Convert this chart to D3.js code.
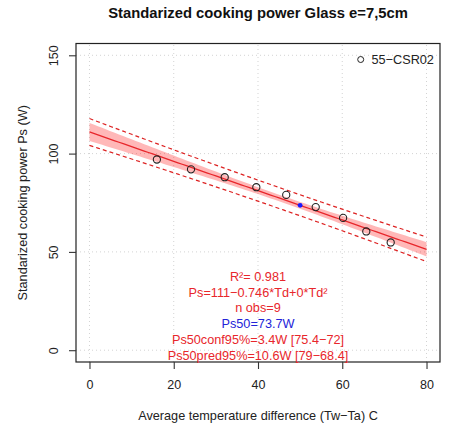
<!DOCTYPE html>
<html>
<head>
<meta charset="utf-8">
<script src="https://cdn.jsdelivr.net/npm/d3@7"></script>
<style>
  body { margin: 0; background: #fff; }
  svg { display: block; font-family: "Liberation Sans", Arial, Helvetica, sans-serif; }
</style>
</head>
<body>
<svg id="chart"></svg>
<script>
// measurements: average temperature difference (C) vs standardized power (W)
const tempDiff = [16.0, 24.1, 32.1, 39.6, 46.7, 53.7, 60.2, 65.7, 71.5];
const power    = [97.0, 92.0, 88.0, 82.9, 79.0, 72.8, 67.3, 60.4, 54.8];

// fitted model as printed in the annotations
const intercept = 111;
const slope = -0.746;
const td50 = 50;
const ps50 = 73.7;
const tCrit = 2.365; // t(0.975, df = 7)

const xTicks = [0, 20, 40, 60, 80];
const yTicks = [0, 50, 100, 150];

const notes = [
  { text: "R\u00b2= 0.981", color: "#e8262b" },
  { text: "Ps=111\u22120.746*Td+0*Td\u00b2", color: "#e8262b" },
  { text: "n obs=9", color: "#e8262b" },
  { text: "Ps50=73.7W", color: "#2323d8" },
  { text: "Ps50conf95%=3.4W [75.4\u221272]", color: "#e8262b" },
  { text: "Ps50pred95%=10.6W [79\u221268.4]", color: "#e8262b" }
];

const W = 449, H = 426;
const margin = { top: 43.5, right: 9, bottom: 64, left: 76 };

const svg = d3.select("#chart").attr("width", W).attr("height", H);

const x = d3.scaleLinear().domain([-3.2, 83.2]).range([margin.left, W - margin.right]);
const y = d3.scaleLinear().domain([-6, 156]).range([H - margin.bottom, margin.top]);

// grid
const grid = svg.append("g")
  .attr("stroke", "#d3d3d3")
  .attr("stroke-width", 1)
  .attr("stroke-dasharray", "1,3");
grid.selectAll(".gx").data(xTicks).enter().append("line")
  .attr("x1", d => x(d)).attr("x2", d => x(d))
  .attr("y1", y.range()[0]).attr("y2", y.range()[1]);
grid.selectAll(".gy").data(yTicks).enter().append("line")
  .attr("x1", x.range()[0]).attr("x2", x.range()[1])
  .attr("y1", d => y(d)).attr("y2", d => y(d));

// residual standard error and x spread, for the bands
const n = tempDiff.length;
const xMean = d3.mean(tempDiff);
const sxx = d3.sum(tempDiff, v => (v - xMean) ** 2);
const fit = v => intercept + slope * v;
const sse = d3.sum(tempDiff, (v, i) => (power[i] - fit(v)) ** 2);
const s = Math.sqrt(sse / (n - 2));

const grid01 = d3.range(0, 80.001, 1);
const band = grid01.map(v => {
  const lev = 1 / n + (v - xMean) ** 2 / sxx;
  return {
    x: v,
    fit: fit(v),
    conf: tCrit * s * Math.sqrt(lev),
    pred: tCrit * s * Math.sqrt(1 + lev)
  };
});

svg.append("clipPath").attr("id", "plotclip").append("rect")
  .attr("x", x.range()[0]).attr("y", y.range()[1])
  .attr("width", x.range()[1] - x.range()[0])
  .attr("height", y.range()[0] - y.range()[1]);

const plot = svg.append("g").attr("clip-path", "url(#plotclip)");

plot.append("path")
  .datum(band)
  .attr("fill", "rgba(255,0,0,0.28)")
  .attr("stroke", "none")
  .attr("d", d3.area()
    .x(d => x(d.x))
    .y0(d => y(d.fit - d.conf))
    .y1(d => y(d.fit + d.conf)));

const dashLine = sign => d3.line()
  .x(d => x(d.x))
  .y(d => y(d.fit + sign * d.pred));

[1, -1].forEach(sign => {
  plot.append("path")
    .datum(band)
    .attr("fill", "none")
    .attr("stroke", "#dd2222")
    .attr("stroke-width", 1.2)
    .attr("stroke-dasharray", "4,3")
    .attr("d", dashLine(sign));
});

plot.append("path")
  .datum(band)
  .attr("fill", "none")
  .attr("stroke", "#e8262b")
  .attr("stroke-width", 1.3)
  .attr("d", d3.line().x(d => x(d.x)).y(d => y(d.fit)));

// observations
plot.selectAll("circle.obs")
  .data(tempDiff)
  .enter().append("circle")
  .attr("class", "obs")
  .attr("cx", d => x(d))
  .attr("cy", (d, i) => y(power[i]))
  .attr("r", 3.6)
  .attr("fill", "none")
  .attr("stroke", "#222")
  .attr("stroke-width", 1.1);

plot.append("circle")
  .attr("cx", x(td50))
  .attr("cy", y(ps50))
  .attr("r", 2.4)
  .attr("fill", "#1a1aff");

// box
svg.append("rect")
  .attr("x", x.range()[0]).attr("y", y.range()[1])
  .attr("width", x.range()[1] - x.range()[0])
  .attr("height", y.range()[0] - y.range()[1])
  .attr("fill", "none")
  .attr("stroke", "#222")
  .attr("stroke-width", 1.2);

// axes
const xAxis = svg.append("g")
  .attr("transform", `translate(0,${y.range()[0]})`)
  .call(d3.axisBottom(x).tickValues(xTicks).tickSize(7).tickPadding(11));
const yAxis = svg.append("g")
  .attr("transform", `translate(${x.range()[0]},0)`)
  .call(d3.axisLeft(y).tickValues(yTicks).tickSize(7).tickPadding(4));

[xAxis, yAxis].forEach(ax => {
  ax.select(".domain").remove();
  ax.selectAll(".tick line").attr("stroke", "#333").attr("stroke-width", 1.1);
  ax.selectAll("text")
    .attr("fill", "#222")
    .style("font-size", "12.5px")
    .style("font-family", "'Liberation Sans', Arial, sans-serif");
});

yAxis.selectAll(".tick text")
  .attr("text-anchor", "middle")
  .attr("dy", null)
  .attr("x", 0)
  .attr("transform", "translate(-18,0) rotate(-90)");

// legend
svg.append("circle")
  .attr("cx", 360.7).attr("cy", 59.5).attr("r", 3)
  .attr("fill", "none").attr("stroke", "#222").attr("stroke-width", 1);
svg.append("text")
  .attr("x", 371.5).attr("y", 64)
  .attr("fill", "#222")
  .style("font-size", "12.7px")
  .text("55\u2212CSR02");

// title and axis labels
const cx = (x.range()[0] + x.range()[1]) / 2;
svg.append("text")
  .attr("x", cx).attr("y", 18)
  .attr("text-anchor", "middle")
  .attr("font-weight", "bold")
  .style("font-size", "14.8px")
  .attr("fill", "#111")
  .text("Standarized cooking power Glass e=7,5cm");

svg.append("text")
  .attr("x", cx).attr("y", 419.5)
  .attr("text-anchor", "middle")
  .style("font-size", "12.7px")
  .attr("fill", "#222")
  .text("Average temperature difference (Tw\u2212Ta) C");

svg.append("text")
  .attr("transform", `translate(26.5,${(y.range()[0] + y.range()[1]) / 2}) rotate(-90)`)
  .attr("text-anchor", "middle")
  .style("font-size", "12.7px")
  .attr("fill", "#222")
  .text("Standarized cooking power Ps (W)");

// fit annotations
svg.append("g").selectAll("text")
  .data(notes)
  .enter().append("text")
  .attr("x", cx)
  .attr("y", (d, i) => 281 + i * 15.7)
  .attr("text-anchor", "middle")
  .style("font-size", "12.7px")
  .attr("fill", d => d.color)
  .text(d => d.text);
</script>
</body>
</html>
